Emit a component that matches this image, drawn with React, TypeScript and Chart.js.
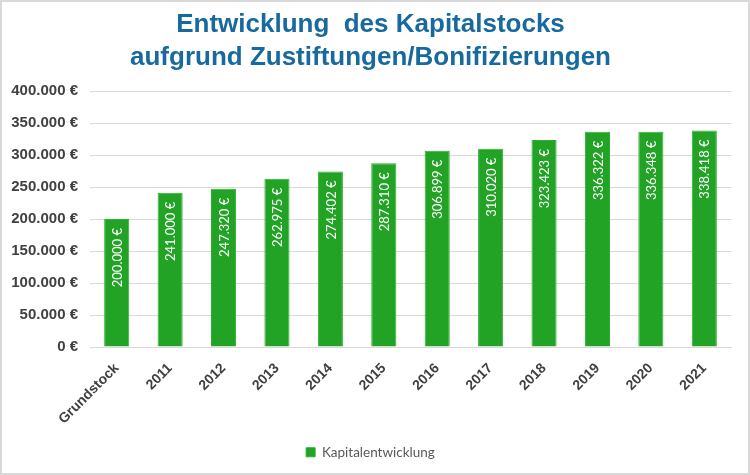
import React, { useEffect, useRef } from "react";
import { Chart, registerables } from "chart.js";

Chart.register(...registerables);

const categories = ["Grundstock", "2011", "2012", "2013", "2014", "2015", "2016", "2017", "2018", "2019", "2020", "2021"];
const kapital = [200000, 241000, 247320, 262975, 274402, 287310, 306899, 310020, 323423, 336322, 336348, 338418];
const titleLines = ["Entwicklung  des Kapitalstocks", "aufgrund Zustiftungen/Bonifizierungen"];
const seriesName = "Kapitalentwicklung";

const fmt = (v: number) => String(Math.round(v)).replace(/\B(?=(\d{3})+(?!\d))/g, ".") + " €";

const barLabels = {
  id: "barLabels",
  afterDatasetsDraw(chart: any) {
    const ctx = chart.ctx;
    const meta = chart.getDatasetMeta(0);
    const data = chart.data.datasets[0].data as number[];
    ctx.save();
    ctx.fillStyle = "#ffffff";
    ctx.font = "13px Lato, 'Liberation Sans', sans-serif";
    ctx.textAlign = "right";
    ctx.textBaseline = "middle";
    meta.data.forEach((bar: any, i: number) => {
      ctx.save();
      ctx.translate(bar.x, bar.y + 9);
      ctx.rotate(-Math.PI / 2);
      ctx.fillText(fmt(data[i]), 0, 1);
      ctx.restore();
    });
    ctx.restore();
  },
};

export default function App() {
  const ref = useRef<HTMLCanvasElement | null>(null);
  useEffect(() => {
    if (!ref.current) return;
    const chart = new Chart(ref.current, {
      type: "bar",
      data: {
        labels: categories,
        datasets: [
          {
            label: seriesName,
            data: kapital,
            backgroundColor: "#22a326",
            borderColor: "#2cb02e",
            borderWidth: 1,
            categoryPercentage: 1,
            barPercentage: 0.47,
          },
        ],
      },
      options: {
        animation: false,
        responsive: false,
        maintainAspectRatio: false,
        layout: { padding: { left: 8, right: 17, top: 0, bottom: 4 } },
        plugins: {
          title: {
            display: true,
            text: titleLines,
            color: "#17699e",
            font: { family: "'Liberation Sans', Arial, sans-serif", size: 26, weight: "bold", lineHeight: 1.27 },
            padding: { top: 6, bottom: 17 },
          },
          legend: {
            position: "bottom",
            labels: {
              boxWidth: 9,
              boxHeight: 9,
              padding: 10,
              color: "#595959",
              font: { family: "Lato, 'Liberation Sans', sans-serif", size: 13.5 },
            },
          },
          tooltip: { enabled: false },
        },
        scales: {
          x: {
            grid: { display: false, drawTicks: false },
            border: { display: true, color: "#d9d9d9" },
            ticks: {
              maxRotation: 45,
              minRotation: 45,
              padding: 13,
              color: "#404040",
              font: { family: "'Liberation Sans', Arial, sans-serif", size: 14, weight: "bold" },
            },
            afterFit: (s: any) => {
              s.height -= 5;
              s.paddingLeft = 0;
              s.paddingRight = 0;
            },
          },
          y: {
            min: 0,
            max: 400000,
            grid: { color: "#d9d9d9", drawTicks: false },
            border: { display: false },
            ticks: {
              stepSize: 50000,
              padding: 12,
              color: "#404040",
              font: { family: "'Liberation Sans', Arial, sans-serif", size: 15, weight: "bold" },
              callback: (v: any) => fmt(Number(v)),
            },
            afterFit: (s: any) => {
              s.width = 80;
            },
          },
        },
      },
      plugins: [barLabels],
    });
    return () => chart.destroy();
  }, []);
  return (
    <div
      style={{
        position: "absolute",
        left: 0,
        top: 0,
        width: 750,
        height: 475,
        boxSizing: "border-box",
        border: "2px solid #d9d9d9",
        background: "#fff",
      }}
    >
      <canvas ref={ref} width={746} height={471} style={{ display: "block" }} />
    </div>
  );
}
